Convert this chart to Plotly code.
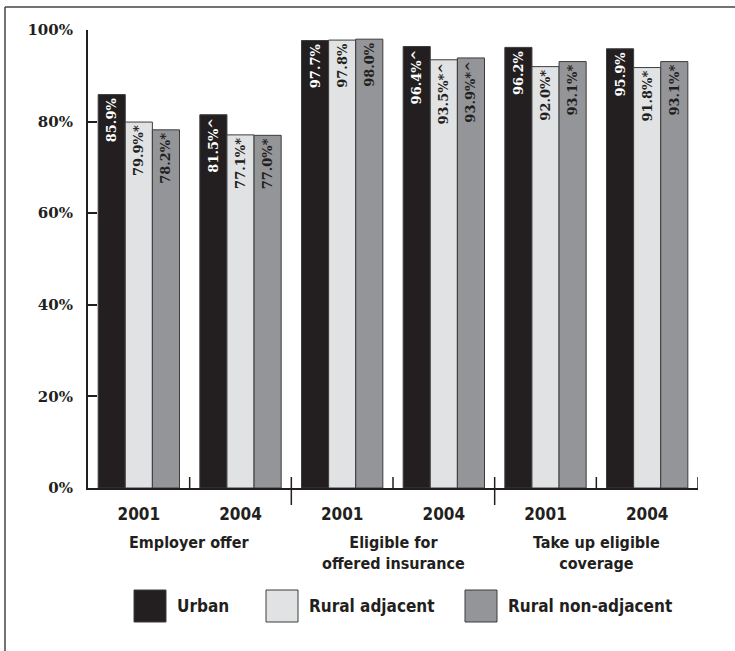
import plotly.graph_objects as go

# ---- data ----
categories = ["Employer offer", "Eligible for<br>offered insurance", "Take up eligible<br>coverage"]
years = ["2001", "2004"]
series_names = ["Urban", "Rural adjacent", "Rural non-adjacent"]
urban = [85.9, 81.5, 97.7, 96.4, 96.2, 95.9]
rural_adjacent = [79.9, 77.1, 97.8, 93.5, 92.0, 91.8]
rural_non_adjacent = [78.2, 77.0, 98.0, 93.9, 93.1, 93.1]
urban_marks = ["", "^", "", "^", "", ""]
rural_adjacent_marks = ["*", "*", "", "*^", "*", "*"]
rural_non_adjacent_marks = ["*", "*", "", "*^", "*", "*"]
y_ticks = [0, 20, 40, 60, 80, 100]

# ---- styles ----
colors = ["#231f20", "#e1e2e4", "#939598"]
text_colors = ["#ffffff", "#231f20", "#231f20"]
serif = "DejaVu Serif"
sans = "DejaVu Sans Condensed, Liberation Sans Narrow, DejaVu Sans, sans-serif"
ink = "#231f20"

W, H = 735, 651
ML, MR, MT, MB = 88, 37, 30, 163
PW, PH = W - ML - MR, H - MT - MB


def px_x(px):
    return (px - ML) / PW


def px_y(py):
    return (H - MB - py) / PH


n_groups = len(categories) * len(years)
xpos = list(range(n_groups))
year_labels = [y for _ in categories for y in years]

fig = go.Figure()
all_vals = [urban, rural_adjacent, rural_non_adjacent]
all_marks = [urban_marks, rural_adjacent_marks, rural_non_adjacent_marks]
for name, vals, marks, col, tcol in zip(series_names, all_vals, all_marks, colors, text_colors):
    fig.add_trace(go.Bar(
        x=xpos, y=vals, name=name,
        marker=dict(color=col, line=dict(color="#3c3c3c", width=1)),
        text=[f"{v:.1f}%{m}" for v, m in zip(vals, marks)],
        textposition="inside", insidetextanchor="end", textangle=-90,
        textfont=dict(family=serif, size=13, color=tcol, weight="bold"),
        showlegend=False, hoverinfo="skip",
    ))

shapes = []
# frame (top and left edges)
shapes.append(dict(type="line", xref="paper", yref="paper", x0=px_x(5), x1=px_x(735),
                   y0=px_y(7), y1=px_y(7), line=dict(color="#444444", width=1.5), layer="above"))
shapes.append(dict(type="line", xref="paper", yref="paper", x0=px_x(5), x1=px_x(5),
                   y0=px_y(7), y1=px_y(651), line=dict(color="#444444", width=1.5), layer="above"))

# group boundary ticks
tick_up = 11 / PH
tick_down = 17 / PH
for k in range(1, n_groups + 1):
    xb = k - 0.5
    is_cat_boundary = (k % len(years) == 0) and k < n_groups
    shapes.append(dict(type="line", xref="x", yref="paper", x0=xb, x1=xb,
                       y0=-tick_down if is_cat_boundary else 0, y1=tick_up,
                       line=dict(color=ink, width=1.5)))

annotations = []
for i, cat in enumerate(categories):
    annotations.append(dict(x=i * len(years) + (len(years) - 1) / 2, xref="x",
                            y=px_y(531), yref="paper", yanchor="top", showarrow=False,
                            text=cat, align="center",
                            font=dict(family=sans, size=16, color=ink, weight="bold")))

# legend (swatches + labels)
sw_left = [134, 266, 465]
for name, col, left in zip(series_names, colors, sw_left):
    shapes.append(dict(type="rect", xref="paper", yref="paper",
                       x0=px_x(left), x1=px_x(left + 32), y0=px_y(622), y1=px_y(590),
                       fillcolor=col, line=dict(color="#3c3c3c", width=1)))
    annotations.append(dict(x=px_x(left + 41), xref="paper", y=px_y(606), yref="paper",
                            xanchor="left", yanchor="middle", showarrow=False, text=name,
                            font=dict(family=sans, size=17, color=ink, weight="bold")))

fig.update_layout(
    width=W, height=H,
    margin=dict(l=ML, r=MR, t=MT, b=MB, pad=0),
    paper_bgcolor="white", plot_bgcolor="white",
    barmode="group", bargap=0.2, bargroupgap=0,
    xaxis=dict(range=[-0.5, n_groups - 0.5], tickvals=xpos, ticktext=year_labels,
               showgrid=False, zeroline=False, showline=True, linecolor=ink, linewidth=2,
               ticks="", ticklabelstandoff=10,
               tickfont=dict(family=sans, size=17, color=ink, weight="bold")),
    yaxis=dict(range=[0, 100], tickvals=y_ticks, ticktext=[f"{v}%" for v in y_ticks],
               showgrid=False, zeroline=False, showline=True, linecolor=ink, linewidth=2,
               ticks="inside", ticklen=9, tickwidth=2, tickcolor=ink, ticklabelstandoff=10,
               tickfont=dict(family=serif, size=15, color=ink, weight="bold")),
    shapes=shapes, annotations=annotations, showlegend=False,
)

fig.write_html("out.html", config={"displayModeBar": False},
               post_script="document.body.style.margin='0';document.body.style.overflow='hidden';")
